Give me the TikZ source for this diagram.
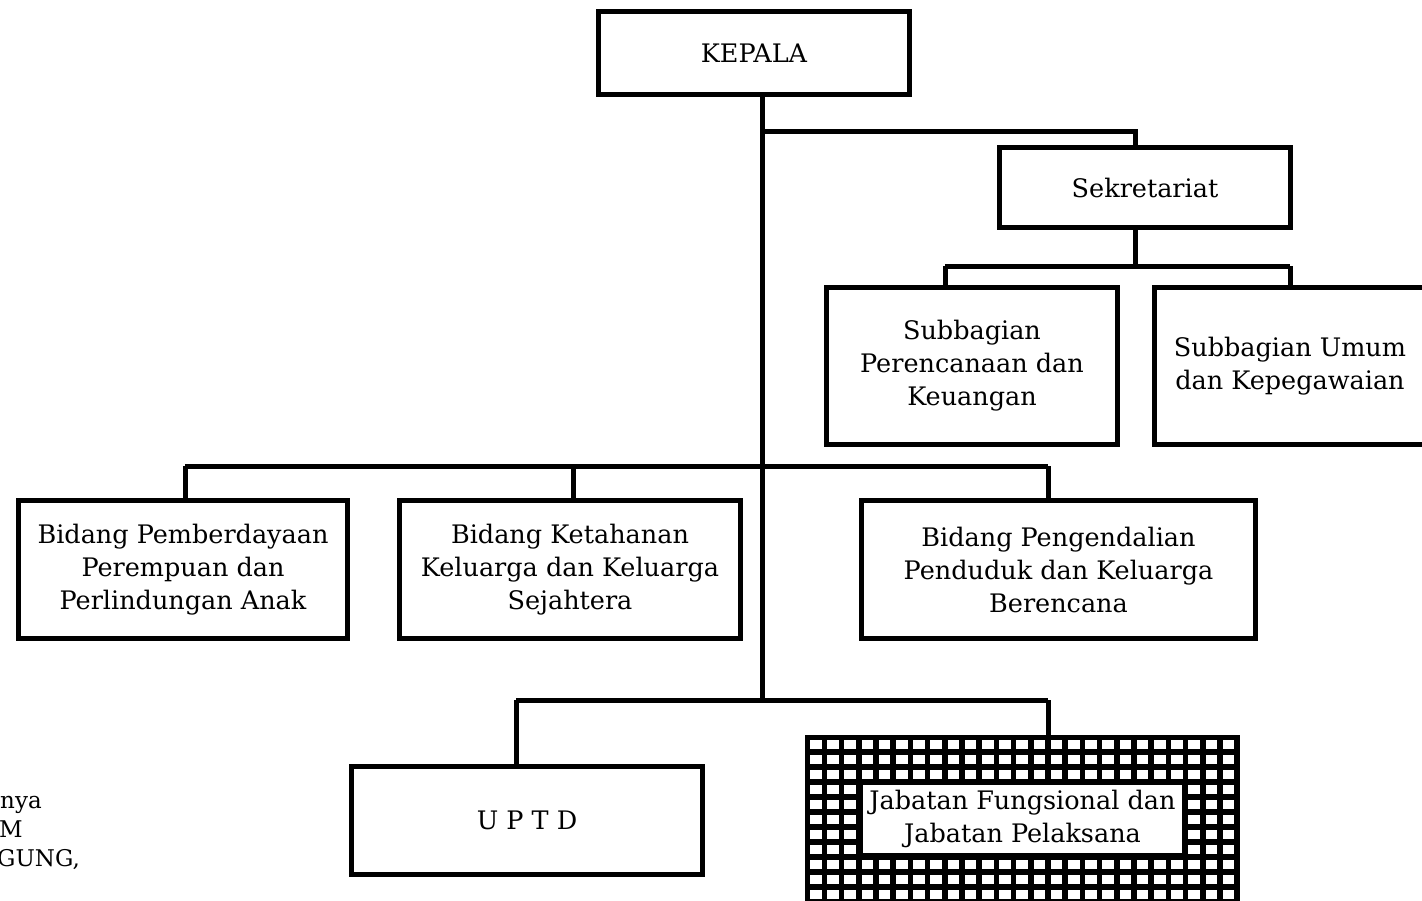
\documentclass[tikz,border=0pt]{standalone}
\usepackage{fontspec}
\setmainfont{DejaVu Serif}
\begin{document}
\begin{tikzpicture}[x=1pt, y=-1pt,
    unit/.style 2 args={draw, line width=5pt, minimum width=#1, minimum height=#2, align=center, inner sep=0pt, font=\fontsize{25.5}{33}\selectfont},
    link/.style={line width=5pt},
    note/.style={anchor=base west, inner sep=0pt, font=\fontsize{23}{29}\selectfont}
]
\useasboundingbox (0,0) rectangle (1422,900);
\clip (0,0) rectangle (1422,900);

\node[unit={311}{83}] (kepala) at (754,53) {KEPALA};
\node[unit={291}{80}] (sekr) at (1145,187.5) {Sekretariat};
\node[unit={291}{157}] (sub1) at (972,366) {Subbagian\\Perencanaan dan\\Keuangan};
\node[unit={271}{157}] (sub2) at (1290,366) {Subbagian Umum\\dan Kepegawaian};
\node[unit={329}{138}] (bid1) at (183,569.5) {Bidang Pemberdayaan\\Perempuan dan\\Perlindungan Anak};
\node[unit={341}{138}] (bid2) at (570,569.5) {Bidang Ketahanan\\Keluarga dan Keluarga\\Sejahtera};
\node[unit={394}{138}] (bid3) at (1058.5,569.5) {Bidang Pengendalian\\Penduduk dan Keluarga\\Berencana};
\node[unit={351}{108}] (uptd) at (527,820.5) {U P T D};

% jabatan: hatched frame
\node[fill=black, minimum width=435, minimum height=168, inner sep=0pt] (jabgrid) at (1022.5,819) {};
\foreach \i in {0,...,24}
  \foreach \j in {0,...,10}
    \fill[white] (810+\i*17.2, 740+\j*15) rectangle ++(11.5,8.5);
\node[unit={324}{73}, fill=white] (jab) at (1022.5,819) {Jabatan Fungsional dan\\Jabatan Pelaksana};

\node[note] (note1) at (0,808) {nya};
\node[note] (note2) at (-1,837) {M};
\node[note] (note3) at (-3,866) {GUNG,};

% connectors
\coordinate (t1) at (762,131);
\coordinate (t2) at (762,466);
\coordinate (t3) at (762,700);
\coordinate (s0) at (1135,266);
\coordinate (s1) at (945,266);
\coordinate (s2) at (1290,266);
\coordinate (h1) at (185,466);
\coordinate (h2) at (573,466);
\coordinate (h3) at (1048,466);
\coordinate (u1) at (516,700);
\coordinate (u2) at (1048,700);

\draw[link] (kepala.south -| t1) -- (t3);
\draw[link] (t1) -| (sekr.north -| s0);
\draw[link] (sekr.south -| s0) -- (s0);
\draw[link] (s1) -- (s2);
\draw[link] (s1) -- (sub1.north -| s1);
\draw[link] (s2) -- (sub2.north);
\draw[link] (h1) -- (h3);
\draw[link] (h1) -- (bid1.north -| h1);
\draw[link] (h2) -- (bid2.north -| h2);
\draw[link] (h3) -- (bid3.north -| h3);
\draw[link] (u1) -- (u2);
\draw[link] (u1) -- (uptd.north -| u1);
\draw[link] (u2) -- (jabgrid.north -| u2);
\end{tikzpicture}
\end{document}
